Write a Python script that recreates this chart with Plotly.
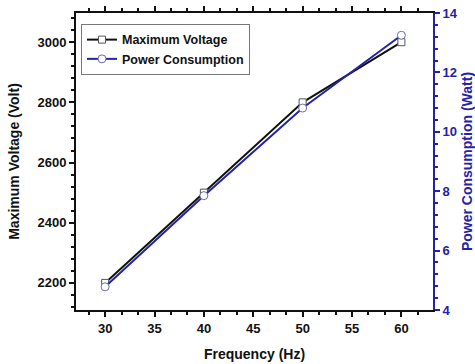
import plotly.graph_objects as go

freq = [30, 40, 50, 60]
max_voltage = [2200, 2500, 2800, 3000]
power = [4.78, 7.85, 10.8, 13.25]

BLUE = "#2323a8"
FONT = "Liberation Sans, Arial, sans-serif"

fig = go.Figure()
fig.add_trace(go.Scatter(
    x=freq, y=max_voltage, name="Maximum Voltage", mode="lines+markers",
    line=dict(color="#111111", width=2),
    marker=dict(symbol="square", size=7, color="white", line=dict(color="#555555", width=1)),
))
fig.add_trace(go.Scatter(
    x=freq, y=power, name="Power Consumption", mode="lines+markers", yaxis="y2",
    line=dict(color=BLUE, width=2),
    marker=dict(symbol="circle", size=8, color="white", line=dict(color="#6a6ab0", width=1)),
))

tickfont = dict(family=FONT, size=13, color="#111111", weight="bold")
fig.update_layout(
    template="simple_white",
    width=475, height=364,
    margin=dict(l=76, r=42, t=13, b=54),
    font=dict(family=FONT, color="#111111"),
    showlegend=True,
    legend=dict(
        x=0.014, y=0.963, xanchor="left", yanchor="top",
        bordercolor="#777777", borderwidth=1, bgcolor="white",
        font=dict(family=FONT, size=12.5, color="#111111", weight="bold"),
        tracegroupgap=0, itemwidth=30,
    ),
    xaxis=dict(
        range=[27.05, 63.2], dtick=5, tick0=30, automargin=False,
        showline=True, linecolor="#111111", linewidth=2,
        mirror="ticks", ticks="outside", ticklen=5, tickwidth=1.5, tickcolor="#111111",
        minor=dict(ticks="outside", dtick=5/3, tick0=30, ticklen=3, tickcolor="#111111"),
        tickfont=tickfont,
        title=dict(text="Frequency (Hz)", font=dict(family=FONT, size=14, color="#111111", weight="bold")),
    ),
    yaxis=dict(
        range=[2110, 3097], dtick=200, automargin=False,
        showline=True, linecolor="#111111", linewidth=2,
        ticks="outside", ticklen=5, tickwidth=1.5, tickcolor="#111111",
        minor=dict(ticks="outside", dtick=40, ticklen=3, tickcolor="#111111"),
        tickfont=tickfont,
        title=dict(text="Maximum Voltage (Volt)", font=dict(family=FONT, size=14, color="#111111", weight="bold")),
    ),
    yaxis2=dict(
        range=[4, 14], overlaying="y", side="right", dtick=2, automargin=False,
        showline=True, linecolor=BLUE, linewidth=2,
        ticks="outside", ticklen=5, tickwidth=1.5, tickcolor=BLUE,
        minor=dict(dtick=0.4, tick0=4, ticks="outside", ticklen=3, tickwidth=1.5, tickcolor=BLUE, showgrid=False),
        tickfont=dict(family=FONT, size=13, color=BLUE, weight="bold"),
        title=dict(text="Power Consumption (Watt)", font=dict(family=FONT, size=14, color=BLUE, weight="bold")),
    ),
)

fig.write_html("out.html")
